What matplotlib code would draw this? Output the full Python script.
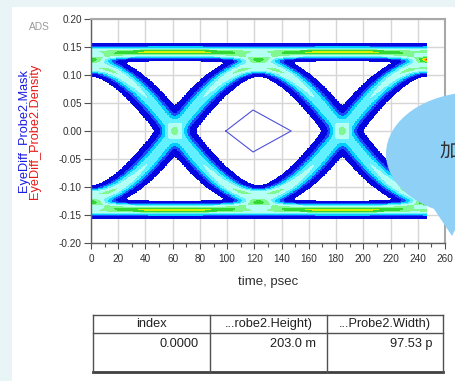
import math
import numpy as np
import matplotlib
matplotlib.use('Agg')
import matplotlib.pyplot as plt
from matplotlib.colors import ListedColormap, BoundaryNorm
from matplotlib.patches import Rectangle, Ellipse, Polygon

plt.rcParams['font.family'] = ['Liberation Sans', 'DejaVu Sans']

# ---------------- data ----------------
x_ticks = [0, 20, 40, 60, 80, 100, 120, 140, 160, 180, 200, 220, 240, 260]
y_ticks = [-0.20, -0.15, -0.10, -0.05, 0.00, 0.05, 0.10, 0.15, 0.20]
y_tick_labels = ['-0.20', '-0.15', '-0.10', '-0.05', '0.00', '0.05', '0.10', '0.15', '0.20']

unit_interval = 123.0          # ps, bit period (crossings at ~61.5 and ~184.5)
eye_time_span = [0.0, 247.0]   # ps, extent of the density data
amplitude = 0.148              # outer rail level
fast_sigma = 36.0              # ps, edge smoothing
slow_sigma = 300.0             # ps, long ISI tail
fast_weight = 0.93
bit_offsets = list(range(-5, 8))
noise_v = 0.0038               # V blur
noise_t = 4.5                  # ps blur

mask_time = [99.0, 119.0, 147.0, 119.0, 99.0]
mask_volt = [0.0, 0.0375, 0.0, -0.0375, 0.0]

table_headers = ['index', '...robe2.Height)', '...Probe2.Width)']
table_values = ['0.0000', '203.0 m', '97.53 p']

density_colors = ['#0606e0', '#1a4cff', '#00ccff', '#60f0ff', '#b4fff4',
                  '#80f890', '#34d834', '#dcf000', '#ffa000', '#ff2400']
density_levels = [0.002, 0.04, 0.09, 0.18, 0.3, 0.45, 0.6, 0.76, 0.86, 0.94, 1.01]

# ---------------- eye density ----------------
erf = np.vectorize(math.erf)


def Phi(x):
    return 0.5 * (1.0 + erf(x / np.sqrt(2.0)))


def pulse(tt):
    h = unit_interval / 2.0
    f = Phi((tt + h) / fast_sigma) - Phi((tt - h) / fast_sigma)
    s = Phi((tt + h) / slow_sigma) - Phi((tt - h) / slow_sigma)
    return fast_weight * f + (1.0 - fast_weight) * s


dt = 0.25
t = np.arange(eye_time_span[0], eye_time_span[1] + 1e-9, dt)
P = np.array([pulse(t - k * unit_interval) for k in bit_offsets])
n = len(bit_offsets)
codes = np.arange(2 ** n)
B = (((codes[:, None] >> np.arange(n)) & 1) * 2 - 1).astype(float)
V = amplitude * (B @ P)

t_edges = np.arange(eye_time_span[0], eye_time_span[1] + 0.5, 0.5)
v_edges = np.linspace(-0.2, 0.2, 401)
H, _, _ = np.histogram2d(np.tile(t, V.shape[0]), V.ravel(), bins=[t_edges, v_edges])


def gauss_kernel(sig):
    r = int(4 * sig) + 1
    x = np.arange(-r, r + 1)
    k = np.exp(-0.5 * (x / sig) ** 2)
    return k / k.sum()


def smooth(a, sig, axis):
    k = gauss_kernel(sig)
    r = (len(k) - 1) // 2
    pad = [(0, 0), (0, 0)]
    pad[axis] = (r, r)
    ap = np.pad(a, pad, mode='edge' if axis == 0 else 'constant')
    return np.apply_along_axis(lambda c: np.convolve(c, k, mode='valid'), axis, ap)


H = smooth(H, noise_v / (v_edges[1] - v_edges[0]), 1)
H = smooth(H, noise_t / (t_edges[1] - t_edges[0]), 0)
D = H.T / H.max()
D = np.ma.masked_less(D, density_levels[0])

# ---------------- figure ----------------
W, Hpx = 455, 381
fig = plt.figure(figsize=(W / 100, Hpx / 100), dpi=100)
fig.patch.set_facecolor('#e8f4f5')
fig.add_artist(Rectangle((12 / W, 0), 1, 1 - 7 / Hpx, transform=fig.transFigure,
                         facecolor='white', edgecolor='none', zorder=-1))

ax = fig.add_axes([91 / W, 1 - 243 / Hpx, 354 / W, 224 / Hpx])
ax.set_xlim(0, 260)
ax.set_ylim(-0.2, 0.2)
ax.set_axisbelow(True)
ax.grid(True, color='#d6d6d6', linewidth=1.0)

cmap = ListedColormap(density_colors)
norm = BoundaryNorm(density_levels, cmap.N)
ax.pcolormesh(t_edges, v_edges, D, cmap=cmap, norm=norm, shading='flat',
              zorder=1, rasterized=True)
ax.plot(mask_time, mask_volt, color='#5050dc', linewidth=0.8, zorder=2)

ax.set_xticks(x_ticks)
ax.set_xticks(np.arange(10, 260, 20), minor=True)
ax.set_yticks(y_ticks)
ax.set_yticklabels(y_tick_labels)
ax.tick_params(axis='y', direction='out', length=5, width=0.8, color='#505050',
               labelsize=7.2, labelcolor='#303030', pad=1.5)
ax.tick_params(axis='x', which='major', direction='out', length=4.5, width=0.8,
               color='#505050', labelsize=7.2, labelcolor='#303030', pad=3.5)
ax.tick_params(axis='x', which='minor', direction='out', length=3, width=0.8,
               color='#505050')
for s in ['left', 'bottom']:
    ax.spines[s].set_color('#606060')
    ax.spines[s].set_linewidth(1.0)
for s in ['top', 'right']:
    ax.spines[s].set_color('#a8a8a8')
    ax.spines[s].set_linewidth(1.5)

# ---------------- overlay in pixel coordinates ----------------
ov = fig.add_axes([0, 0, 1, 1], zorder=5)
ov.set_xlim(0, W)
ov.set_ylim(Hpx, 0)
ov.axis('off')
ov.patch.set_alpha(0)

ov.text(39.5, 27, 'ADS', fontsize=7.3, color='#9a9a9a', ha='center', va='center')
ov.text(24, 131, 'EyeDiff_Probe2.Mask', fontsize=9.2, color='#1a1ae6',
        rotation=90, ha='center', va='center')
ov.text(35, 131, 'EyeDiff_Probe2.Density', fontsize=9.2, color='#e61a1a',
        rotation=90, ha='center', va='center')
ov.text(268, 282, 'time, psec', fontsize=9.5, color='#303030', ha='center', va='center')

# table
tl, tr, tt, th, tb = 93, 443, 315, 333, 372
cols = [tl, 210, 327, tr]
ov.plot([tl, tr], [tt, tt], color='#505050', lw=1.0)
ov.plot([tl, tr], [th, th], color='#505050', lw=1.0)
ov.plot([tl, tr], [tb, tb], color='#404040', lw=2.0)
for cx in cols:
    ov.plot([cx, cx], [tt, tb], color='#505050', lw=1.0)
for i in range(3):
    ov.text((cols[i] + cols[i + 1]) / 2, 324, table_headers[i], fontsize=9.2,
            color='#202020', ha='center', va='center')
    ov.text(cols[i + 1] - 11, 344, table_values[i], fontsize=9.2,
            color='#202020', ha='right', va='center')

# speech bubble
bubble_color = '#8fd0f7'
ov.add_patch(Ellipse((476, 154), 180, 124, facecolor=bubble_color, edgecolor='none'))
ov.add_patch(Polygon([(428, 200), (452, 236), (472, 195)], closed=True,
                     facecolor=bubble_color, edgecolor='none'))
ov.text(439, 152, '加', fontsize=14, family=['Noto Sans CJK SC', 'DejaVu Sans'],
        color='#303030', ha='left', va='center')

fig.savefig('out.png', dpi=100)
